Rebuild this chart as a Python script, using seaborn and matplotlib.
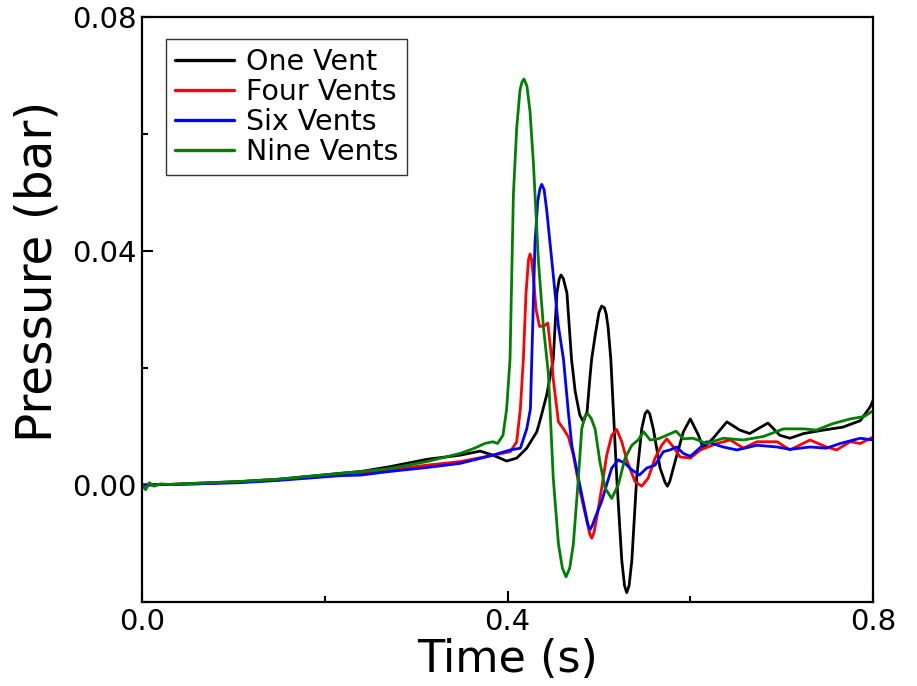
import numpy as np
import pandas as pd
import matplotlib
matplotlib.use("Agg")
import matplotlib.pyplot as plt
import seaborn as sns
from matplotlib.ticker import MultipleLocator, FormatStrFormatter

# ---------------- data ----------------
series_names = ["One Vent", "Four Vents", "Six Vents", "Nine Vents"]
series_colors = ["#000000", "#ff0000", "#0000ff", "#008000"]

t_one = [0.000, 0.030, 0.060, 0.107, 0.150, 0.217, 0.239, 0.270, 0.312, 0.348,
         0.370, 0.384, 0.399, 0.410, 0.421, 0.432, 0.436, 0.443, 0.450, 0.454,
         0.4565, 0.4585, 0.461, 0.465, 0.470, 0.474, 0.479, 0.483, 0.487, 0.490,
         0.492, 0.496, 0.500, 0.503, 0.506, 0.508, 0.510, 0.513, 0.5195, 0.525,
         0.528, 0.5304, 0.533, 0.536, 0.5413, 0.5468, 0.5505, 0.553, 0.5555, 0.5595,
         0.5669, 0.5725, 0.5749, 0.5775, 0.5833, 0.5924, 0.600, 0.609, 0.614, 0.625,
         0.640, 0.654, 0.665, 0.685, 0.698, 0.709, 0.724, 0.746, 0.767, 0.786,
         0.797, 0.800]
p_one = [0.0000, 0.0001, 0.0003, 0.0006, 0.0010, 0.0020, 0.0023, 0.0031, 0.0044, 0.0051,
         0.0058, 0.0051, 0.0041, 0.0046, 0.0063, 0.0091, 0.0113, 0.0155, 0.0215, 0.0328,
         0.0352, 0.0359, 0.0353, 0.0328, 0.0215, 0.0160, 0.0120, 0.0108, 0.0125, 0.0181,
         0.0215, 0.0257, 0.0295, 0.0306, 0.0303, 0.0292, 0.0270, 0.0215, 0.0012, -0.0129,
         -0.0172, -0.0184, -0.0172, -0.0129, 0.0012, 0.0096, 0.0122, 0.0127, 0.0122, 0.0096,
         0.0029, 0.0004, -0.0002, 0.0006, 0.0040, 0.0091, 0.0113, 0.0085, 0.0063, 0.0080,
         0.0108, 0.0094, 0.0088, 0.0106, 0.0085, 0.0080, 0.0088, 0.0094, 0.0099, 0.0110,
         0.0134, 0.0145]

t_four = [0.000, 0.030, 0.060, 0.107, 0.150, 0.217, 0.239, 0.270, 0.312, 0.348,
          0.384, 0.403, 0.410, 0.414, 0.4173, 0.4202, 0.423, 0.4246, 0.4262, 0.4282,
          0.4312, 0.435, 0.440, 0.444, 0.4484, 0.450, 0.4557, 0.4612, 0.4667, 0.472,
          0.4794, 0.4867, 0.4900, 0.4921, 0.4945, 0.4976, 0.503, 0.5085, 0.514, 0.5195,
          0.525, 0.531, 0.5395, 0.5468, 0.554, 0.5614, 0.5687, 0.5742, 0.5815, 0.5888,
          0.600, 0.611, 0.629, 0.644, 0.658, 0.673, 0.695, 0.709, 0.731, 0.749,
          0.760, 0.775, 0.786, 0.800]
p_four = [0.0000, 0.0001, 0.0002, 0.0005, 0.0009, 0.0018, 0.0020, 0.0026, 0.0034, 0.0040,
          0.0051, 0.0057, 0.0074, 0.0130, 0.0215, 0.0328, 0.0386, 0.0395, 0.0386, 0.0356,
          0.0300, 0.0271, 0.0272, 0.0277, 0.0215, 0.0181, 0.0108, 0.0096, 0.0082, 0.0051,
          -0.0011, -0.0061, -0.0084, -0.0091, -0.0082, -0.0056, -0.0005, 0.0051, 0.0085, 0.0095,
          0.0074, 0.0040, 0.0006, -0.0002, 0.0012, 0.0046, 0.0068, 0.0079, 0.0065, 0.0048,
          0.0046, 0.0060, 0.0071, 0.0077, 0.0063, 0.0074, 0.0074, 0.0060, 0.0077, 0.0065,
          0.0060, 0.0074, 0.0071, 0.0082]

t_six = [0.000, 0.030, 0.060, 0.107, 0.150, 0.217, 0.239, 0.270, 0.312, 0.348,
         0.384, 0.403, 0.414, 0.421, 0.425, 0.4265, 0.430, 0.433, 0.4355, 0.4374,
         0.4400, 0.4429, 0.4484, 0.4557, 0.4612, 0.4665, 0.4703, 0.4775, 0.4848, 0.4880,
         0.4903, 0.4925, 0.4958, 0.503, 0.5085, 0.514, 0.5213, 0.5286, 0.536, 0.5443,
         0.5523, 0.5614, 0.5705, 0.5778, 0.585, 0.5924, 0.600, 0.618, 0.636, 0.651,
         0.673, 0.695, 0.709, 0.731, 0.749, 0.764, 0.786, 0.800]
p_six = [0.0000, 0.0001, 0.0002, 0.0004, 0.0008, 0.0016, 0.0017, 0.0023, 0.0030, 0.0037,
         0.0051, 0.0060, 0.0063, 0.0096, 0.0130, 0.0215, 0.0413, 0.0485, 0.0507, 0.0514,
         0.0505, 0.0469, 0.0384, 0.0271, 0.0215, 0.0125, 0.0068, 0.0012, -0.0044, -0.0068,
         -0.0076, -0.0070, -0.0056, -0.0028, 0.0001, 0.0029, 0.0043, 0.0037, 0.0026, 0.0017,
         0.0029, 0.0034, 0.0057, 0.0060, 0.0065, 0.0054, 0.0049, 0.0074, 0.0065, 0.0060,
         0.0068, 0.0065, 0.0061, 0.0065, 0.0063, 0.0071, 0.0080, 0.0077]

t_nine = [0.000, 0.004, 0.008, 0.013, 0.020, 0.030, 0.060, 0.107, 0.150, 0.217,
          0.239, 0.270, 0.3115, 0.348, 0.364, 0.375, 0.384, 0.389, 0.395, 0.399,
          0.4027, 0.4064, 0.410, 0.4136, 0.4158, 0.418, 0.4212, 0.4246, 0.4282, 0.4337,
          0.4392, 0.4447, 0.450, 0.4557, 0.460, 0.464, 0.468, 0.472, 0.4775, 0.4812,
          0.4845, 0.4877, 0.4915, 0.4958, 0.501, 0.5067, 0.514, 0.5213, 0.5286, 0.536,
          0.543, 0.549, 0.556, 0.565, 0.5844, 0.5924, 0.603, 0.618, 0.636, 0.658,
          0.680, 0.702, 0.724, 0.738, 0.756, 0.775, 0.790, 0.800]
p_nine = [0.0000, -0.0008, 0.0004, -0.0002, 0.0002, 0.0001, 0.0003, 0.0006, 0.0010, 0.0020,
          0.0023, 0.0028, 0.0040, 0.0054, 0.0063, 0.0071, 0.0074, 0.0071, 0.0085, 0.0130,
          0.0215, 0.0497, 0.0610, 0.0675, 0.0689, 0.0694, 0.0682, 0.0638, 0.0553, 0.0384,
          0.0271, 0.0190, 0.0012, -0.0101, -0.0142, -0.0157, -0.0142, -0.0101, 0.0012, 0.0096,
          0.0117, 0.0122, 0.0114, 0.0096, 0.0040, -0.0005, -0.0023, 0.0001, 0.0046, 0.0068,
          0.0077, 0.0091, 0.0077, 0.0079, 0.0092, 0.0079, 0.0080, 0.0071, 0.0080, 0.0077,
          0.0083, 0.0096, 0.0096, 0.0094, 0.0105, 0.0113, 0.0117, 0.0127]

x_ticks = [0.0, 0.4, 0.8]
y_ticks = [0.00, 0.04, 0.08]

# ---------------- build long-form table ----------------
frames = []
for name, t, p in zip(series_names,
                      [t_one, t_four, t_six, t_nine],
                      [p_one, p_four, p_six, p_nine]):
    frames.append(pd.DataFrame({"Time": t, "Pressure": p, "Series": name}))
df = pd.concat(frames, ignore_index=True)

# ---------------- plot ----------------
sns.set_style("ticks")
plt.rcParams["font.family"] = ["DejaVu Sans"]
plt.rcParams["text.color"] = "black"
plt.rcParams["axes.labelcolor"] = "black"
plt.rcParams["xtick.color"] = "black"
plt.rcParams["ytick.color"] = "black"

fig = plt.figure(figsize=(9.17, 6.86), dpi=100)
ax = fig.add_axes([0.1549, 0.1224, 0.7972, 0.8528])

sns.lineplot(data=df, x="Time", y="Pressure", hue="Series",
             hue_order=series_names, palette=dict(zip(series_names, series_colors)),
             sort=False, estimator=None, linewidth=2.0, ax=ax)
for ln in ax.get_lines():
    ln.set_solid_joinstyle("round")

ax.set_xlim(0, 0.8)
ax.set_ylim(-0.02, 0.08)
ax.set_xticks(x_ticks)
ax.set_yticks(y_ticks)
ax.xaxis.set_minor_locator(MultipleLocator(0.2))
ax.yaxis.set_minor_locator(MultipleLocator(0.02))
ax.xaxis.set_major_formatter(FormatStrFormatter("%.1f"))
ax.yaxis.set_major_formatter(FormatStrFormatter("%.2f"))

ax.tick_params(which="both", direction="in", top=False, right=False,
               colors="black", labelcolor="black")
ax.tick_params(which="major", length=8, width=1.5, labelsize=21, pad=4)
ax.tick_params(which="minor", length=4, width=1.5)

for s in ax.spines.values():
    s.set_visible(True)
    s.set_linewidth(1.6)
    s.set_color("black")

ax.set_xlabel("Time (s)", fontsize=32, labelpad=2, color="black")
ax.set_ylabel("Pressure (bar)", fontsize=35, color="black")
ax.yaxis.set_label_coords(-0.110, 0.565)

handles, labels = ax.get_legend_handles_labels()
leg = ax.legend(handles, labels, loc="upper left", bbox_to_anchor=(0.0328, 0.9624),
                borderaxespad=0, frameon=True, fancybox=False, framealpha=1,
                edgecolor="#333333", fontsize=20.5, handlelength=2.1,
                handletextpad=0.4, labelspacing=0.08, borderpad=0.3)
leg.get_frame().set_linewidth(1.0)
for h in leg.legend_handles:
    h.set_linewidth(2.4)
for txt in leg.get_texts():
    txt.set_color("black")

fig.savefig("out.png", dpi=100)
